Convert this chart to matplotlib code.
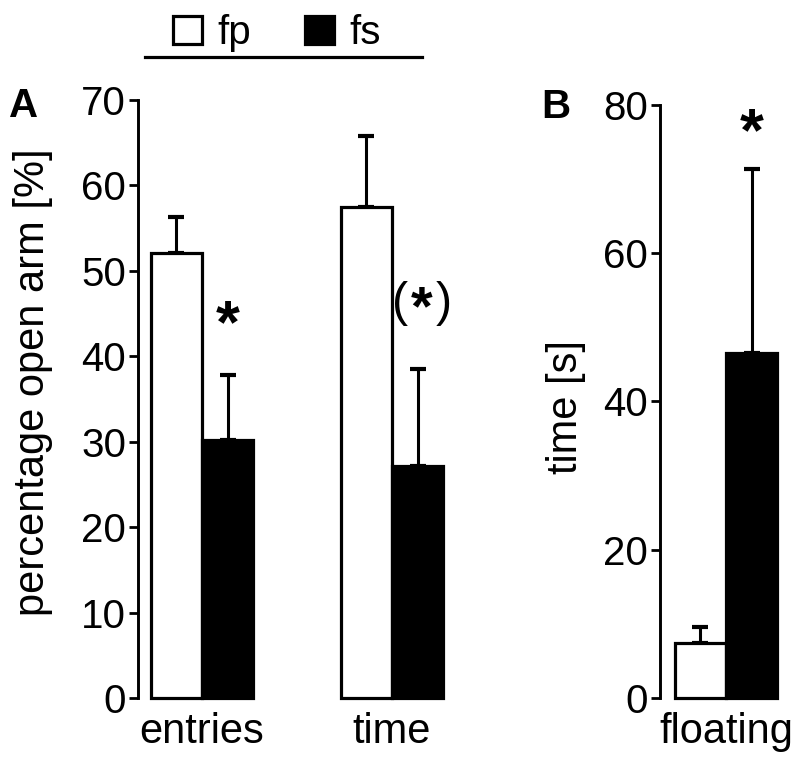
import numpy as np
import matplotlib
matplotlib.use("Agg")
import matplotlib.pyplot as plt
from matplotlib.patches import Patch
from matplotlib.lines import Line2D

plt.rcParams['font.family'] = ['Liberation Sans', 'DejaVu Sans']

# data
groups_a = ["entries", "time"]
fp_a = [52.1, 57.5]
fp_a_err = [4.2, 8.3]
fs_a = [30.2, 27.2]
fs_a_err = [7.6, 11.3]
marks_a = ["*", "(*)"]

groups_b = ["floating"]
fp_b = [7.4]
fp_b_err = [2.2]
fs_b = [46.6]
fs_b_err = [24.7]
marks_b = ["*"]

FS = 29
W = 0.27


def add_mark(ax, x, y, m, off):
    # significance star above the error bar; "(*)" = plain brackets round a bold star
    if m == "(*)":
        for s, dx in [("(", -16), (")", 16)]:
            ax.annotate(s, xy=(x, y), xytext=(dx + 3, off + 12), textcoords="offset points",
                        ha="center", va="center", fontsize=35)
        ax.annotate("*", xy=(x, y), xytext=(3, off + 7), textcoords="offset points",
                    ha="center", va="center", fontsize=40, fontweight="bold")
    else:
        ax.annotate("*", xy=(x, y), xytext=(0, off), textcoords="offset points",
                    ha="center", va="center", fontsize=44, fontweight="bold")


def draw_panel(ax, groups, fp, fp_err, fs, fs_err, marks, mark_off):
    x = np.arange(len(groups))
    ax.bar(x - W / 2, fp, W, color="white", edgecolor="black", linewidth=2.3,
           clip_on=False, zorder=3)
    ax.bar(x + W / 2, fs, W, color="black", edgecolor="black", linewidth=2.3,
           clip_on=False, zorder=3)
    ax.errorbar(x - W / 2, fp, yerr=[np.zeros(len(fp)), fp_err], fmt="none",
                ecolor="black", elinewidth=2.2, capsize=5.5, capthick=3, zorder=2)
    ax.errorbar(x + W / 2, fs, yerr=[np.zeros(len(fs)), fs_err], fmt="none",
                ecolor="black", elinewidth=2.2, capsize=5.5, capthick=3, zorder=2)
    for xi, m, v, e in zip(x, marks, fs, fs_err):
        add_mark(ax, xi + W / 2, v + e, m, mark_off)
    ax.set_xticks(x)
    ax.set_xticklabels(groups, fontsize=30)
    ax.tick_params(axis="x", length=0, pad=10)
    ax.tick_params(axis="y", direction="out", length=6.5, width=2, labelsize=FS, pad=2)
    for s in ["top", "right", "bottom"]:
        ax.spines[s].set_visible(False)
    ax.spines["left"].set_linewidth(2.1)


fig = plt.figure(figsize=(8, 7.65), dpi=100)

ax1 = fig.add_axes([0.1725, 0.0876, 0.4025, 0.7817])
draw_panel(ax1, groups_a, fp_a, fp_a_err, fs_a, fs_a_err, marks_a, 35)
ax1.set_ylim(0, 70)
ax1.set_yticks(np.arange(0, 71, 10))
ax1.set_xlim(-0.337, 1.358)
ax1.set_ylabel("percentage open arm [%]", fontsize=30)
ax1.yaxis.set_label_coords(-0.265, 0.528)

ax2 = fig.add_axes([0.825, 0.0876, 0.1625, 0.7752])
draw_panel(ax2, groups_b, fp_b, fp_b_err, fs_b, fs_b_err, marks_b, 25)
ax2.set_ylim(0, 80)
ax2.set_yticks(np.arange(0, 81, 20))
ax2.set_xlim(-0.347, 0.337)
ax2.set_ylabel("time [s]", fontsize=30)
ax2.yaxis.set_label_coords(-0.57, 0.49)

fig.text(24 / 800, 1 - 106 / 765, "A", fontsize=FS, fontweight="bold",
         ha="center", va="center")
fig.text(556 / 800, 1 - 107 / 765, "B", fontsize=FS, fontweight="bold",
         ha="center", va="center")

handles = [Patch(facecolor="white", edgecolor="black", linewidth=2.3, label="fp"),
           Patch(facecolor="black", edgecolor="black", linewidth=2.3, label="fs")]
fig.legend(handles=handles, loc="center left", bbox_to_anchor=(173 / 800, 1 - 33 / 765),
           ncol=2, frameon=False, fontsize=FS, handlelength=0.72, handleheight=0.72,
           handletextpad=0.38, columnspacing=1.35, borderpad=0, borderaxespad=0)
fig.add_artist(Line2D([145 / 800, 422 / 800], [1 - 57 / 765, 1 - 57 / 765],
                      color="black", linewidth=2.3, transform=fig.transFigure))

fig.savefig("out.png", dpi=100)
